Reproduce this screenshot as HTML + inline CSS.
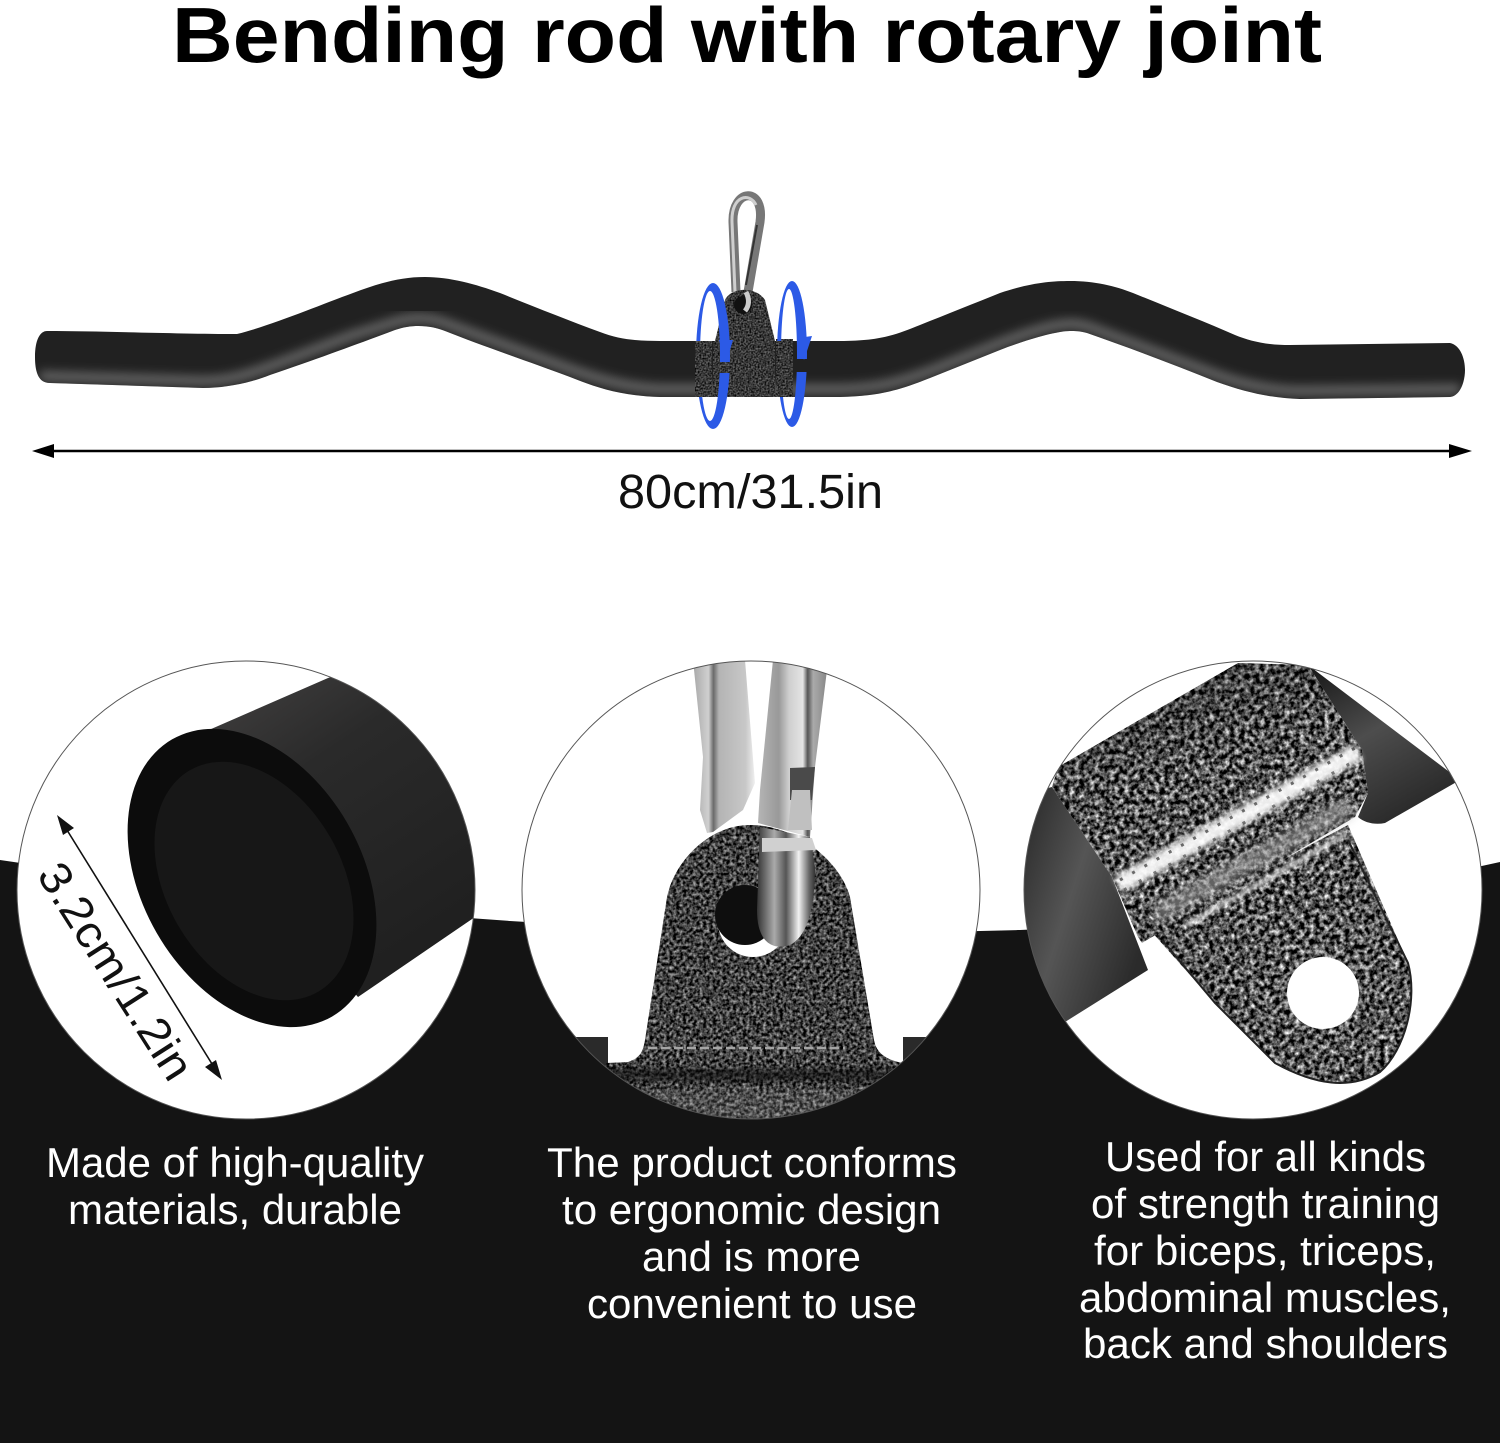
<!DOCTYPE html>
<html><head><meta charset="utf-8"><style>
html,body{margin:0;padding:0;background:#fff}
svg{display:block}
text{font-family:"Liberation Sans",Arial,sans-serif}
.w{fill:#fff;font-size:42px}
</style></head><body>
<svg width="1500" height="1443" viewBox="0 0 1500 1443" xmlns="http://www.w3.org/2000/svg">
<defs>
<filter id="sp" x="0" y="0" width="1" height="1" color-interpolation-filters="sRGB">
<feTurbulence type="fractalNoise" baseFrequency="0.3" numOctaves="2" seed="4" result="n"/>
<feColorMatrix in="n" type="matrix" values="1.3 0 0 0 -0.4  1.3 0 0 0 -0.4  1.3 0 0 0 -0.4  0 0 0 0 1" result="g"/>
<feComposite in="g" in2="SourceAlpha" operator="in"/>
</filter>
<filter id="sp2" x="0" y="0" width="1" height="1" color-interpolation-filters="sRGB">
<feTurbulence type="fractalNoise" baseFrequency="0.2" numOctaves="3" seed="9" result="n"/>
<feColorMatrix in="n" type="matrix" values="1.9 0 0 0 -0.62  1.9 0 0 0 -0.62  1.9 0 0 0 -0.62  0 0 0 0 1" result="g"/>
<feComposite in="g" in2="SourceAlpha" operator="in"/>
</filter>
<filter id="sp3" x="0" y="0" width="1" height="1" color-interpolation-filters="sRGB">
<feTurbulence type="fractalNoise" baseFrequency="0.6" numOctaves="1" seed="2" result="n"/>
<feColorMatrix in="n" type="matrix" values="0.8 0 0 0 -0.18  0.8 0 0 0 -0.18  0.8 0 0 0 -0.18  0 0 0 0 1" result="g"/>
<feComposite in="g" in2="SourceAlpha" operator="in"/>
</filter>
<filter id="b2"><feGaussianBlur stdDeviation="2"/></filter>
<filter id="b3"><feGaussianBlur stdDeviation="3"/></filter>
<filter id="b5"><feGaussianBlur stdDeviation="5"/></filter>
<filter id="b9"><feGaussianBlur stdDeviation="9"/></filter>
<clipPath id="c1"><circle cx="246" cy="890" r="229"/></clipPath>
<clipPath id="c2"><circle cx="751" cy="890" r="229"/></clipPath>
<clipPath id="c3"><circle cx="1253" cy="890" r="229"/></clipPath>
<clipPath id="rodc"><path id="rodp" d="M47,331 C100,331 180,334 237,334 C270,326 320,305 353,293 C380,283 400,277 425,277 C450,277 475,284 500,293 C535,307 570,321 600,332 C620,340 640,341 660,341 L840,341 C880,341 895,335 920,325 C945,315 975,303 1000,293 C1030,283 1050,281 1070,281 C1095,281 1115,286 1133,293 C1170,308 1205,322 1235,335 C1250,341 1265,345 1290,345 L1450,343 C1460,345 1465,358 1465,370 C1465,382 1460,396 1450,397 L1300,399 C1270,398 1245,392 1217,382 C1175,365 1130,348 1087,333 C1080,331 1075,331 1070,331 C1055,331 1020,342 1000,350 L930,378 C900,390 880,396 840,397 L660,397 C620,396 595,387 570,377 C530,362 480,345 445,331 C430,325 412,324 395,330 C360,343 320,358 270,375 C250,383 225,388 203,388 L50,383 C40,383 35,375 35,357 C35,340 40,331 47,331 Z"/></clipPath>
<clipPath id="ringc"><rect x="0" y="0" width="1500" height="341"/><rect x="0" y="397" width="1500" height="100"/><rect x="712" y="341" width="30" height="21"/><rect x="712" y="373" width="30" height="24"/><rect x="792" y="341" width="30" height="18"/><rect x="792" y="372" width="30" height="25"/></clipPath>
<linearGradient id="body1" x1="0.2" y1="0" x2="0.8" y2="1"><stop offset="0" stop-color="#474545"/><stop offset="0.35" stop-color="#2a2a2a"/><stop offset="1" stop-color="#1c1c1c"/></linearGradient>
<linearGradient id="bar3" x1="0" y1="0" x2="1" y2="0.55"><stop offset="0" stop-color="#1a1a1a"/><stop offset="0.55" stop-color="#555"/><stop offset="1" stop-color="#2b2b2b"/></linearGradient>
<linearGradient id="bar4" x1="0" y1="0" x2="0.55" y2="1"><stop offset="0" stop-color="#151515"/><stop offset="0.5" stop-color="#4d4d4d"/><stop offset="1" stop-color="#2a2a2a"/></linearGradient>
<linearGradient id="sil" x1="0" y1="0" x2="1" y2="0"><stop offset="0" stop-color="#a8a8a8"/><stop offset="0.25" stop-color="#d0d0d0"/><stop offset="0.33" stop-color="#6a6a6a"/><stop offset="0.42" stop-color="#b4b4b4"/><stop offset="0.85" stop-color="#c8c8c8"/><stop offset="1" stop-color="#f0f0f0"/></linearGradient>
<linearGradient id="sil2" x1="0" y1="0" x2="1" y2="0"><stop offset="0" stop-color="#b5b5b5"/><stop offset="0.3" stop-color="#999"/><stop offset="0.45" stop-color="#cfcfcf"/><stop offset="0.65" stop-color="#e4e4e4"/><stop offset="0.72" stop-color="#555"/><stop offset="0.8" stop-color="#aaa"/><stop offset="1" stop-color="#888"/></linearGradient>
<linearGradient id="ub" x1="0" y1="0" x2="1" y2="0"><stop offset="0" stop-color="#333"/><stop offset="0.3" stop-color="#aaa"/><stop offset="0.5" stop-color="#555"/><stop offset="0.72" stop-color="#f2f2f2"/><stop offset="0.9" stop-color="#666"/><stop offset="1" stop-color="#333"/></linearGradient>
<linearGradient id="cyl" x1="0.25" y1="0" x2="0.75" y2="1"><stop offset="0" stop-color="#000" stop-opacity=".35"/><stop offset="0.5" stop-color="#000" stop-opacity="0"/><stop offset="1" stop-color="#000" stop-opacity=".1"/></linearGradient>
</defs>

<rect width="1500" height="1443" fill="#fff"/>
<path d="M0,860 C170,885 350,910 510,921 C650,930 850,935 1020,930 C1200,922 1350,895 1500,862 L1500,1443 L0,1443 Z" fill="#141414"/>

<text x="172" y="62" font-size="78" font-weight="700" fill="#000" textLength="1150" lengthAdjust="spacingAndGlyphs">Bending rod with rotary joint</text>

<!-- carabiner -->
<path d="M736,292 L733,222 C732,188 765,186 760,222 L748,292" fill="none" stroke="#777" stroke-width="9"/>
<path d="M735,292 L732,222 C731,195 750,192 756,205" fill="none" stroke="#cfcfcf" stroke-width="3"/>
<path d="M757,225 L746,285" fill="none" stroke="#333" stroke-width="2"/>
<!-- rod -->
<g clip-path="url(#rodc)">
<rect x="0" y="260" width="1500" height="150" fill="#212121"/>
<path d="M40,376 L203,381 C240,381 260,370 353,335 L395,322 C415,316 432,318 445,323 L570,369 C600,380 630,388 660,389 L840,389 C880,388 900,382 930,371 L1000,343 C1040,328 1060,323 1075,324 C1085,325 1090,327 1100,331 L1217,375 C1250,387 1280,391 1300,391 L1460,389" fill="none" stroke="#6a6a6a" stroke-width="9" filter="url(#b5)"/>
</g>
<!-- clevis -->
<path d="M715,341 L725,300 C730,288 755,285 765,300 L775,341 L775,397 L715,397 Z" fill="#444" filter="url(#sp3)"/>
<rect x="695" y="341" width="17" height="56" fill="#444" filter="url(#sp3)"/>
<rect x="713" y="341" width="61" height="55" fill="#444" filter="url(#sp3)"/>
<rect x="776" y="339" width="17" height="58" fill="#444" filter="url(#sp3)"/>
<circle cx="743" cy="305" r="9" fill="#111"/>
<path d="M746,292 C750,300 749,306 745,311" fill="none" stroke="#ccc" stroke-width="5"/>
<!-- blue rings -->
<g clip-path="url(#ringc)" fill="#2c5ae6">
<path fill-rule="evenodd" d="M713,283 A17,73 0 1 1 713,429 A17,73 0 1 1 713,283 Z M710,291 A10,65 0 1 0 710,421 A10,65 0 1 0 710,291 Z"/>
<path fill-rule="evenodd" d="M792,281 A15,73 0 1 1 792,427 A15,73 0 1 1 792,281 Z M789,289 A8,65 0 1 0 789,419 A8,65 0 1 0 789,289 Z"/>
</g>
<path d="M719,340 L733,340 L726,363 Z" fill="#2c5ae6"/>
<path d="M798,338 L812,336 L804,360 Z" fill="#2c5ae6"/>

<!-- dimension arrow -->
<line x1="50" y1="451" x2="1455" y2="451" stroke="#000" stroke-width="2.4"/>
<path d="M32,451 L54,444 L54,458 Z M1472,451 L1449,444 L1449,458 Z" fill="#000"/>
<text x="618" y="508" font-size="48" fill="#111" textLength="265" lengthAdjust="spacingAndGlyphs">80cm/31.5in</text>

<!-- circle 1 -->
<circle cx="246" cy="890" r="229" fill="#fff"/>
<g clip-path="url(#c1)">
<path d="M202,733 L328,678 L560,600 L560,880 L475,917 L358,997 L252,878 Z" fill="url(#body1)"/>
<ellipse cx="252" cy="878" rx="110" ry="160" transform="rotate(-30 252 878)" fill="#0c0c0c"/>
<ellipse cx="254" cy="881" rx="88" ry="128" transform="rotate(-30 254 881)" fill="#171717"/>
</g>
<circle cx="246" cy="890" r="229" fill="none" stroke="#555" stroke-width="1"/>
<g fill="#111">
<line x1="62" y1="822" x2="217" y2="1072" stroke="#111" stroke-width="1.6"/>
<path d="M57,815 L74,828 L63,835 Z M222,1080 L205,1067 L216,1060 Z"/>
</g>
<text transform="translate(36,875) rotate(57.4)" font-size="45" fill="#111" textLength="248" lengthAdjust="spacingAndGlyphs">3.2cm/1.2in</text>

<!-- circle 2 -->
<circle cx="751" cy="890" r="229" fill="#fff"/>
<g clip-path="url(#c2)">
<path d="M693,660 L745,660 L755,783 L743,810 L713,832 L707,833 L700,810 L703,757 Z" fill="url(#sil)"/>
<path d="M773,660 L827,670 L815,767 L810,837 L758,823 L760,790 Z" fill="url(#sil2)"/>
<path d="M790,768 L815,767 L812,800 L790,800 Z" fill="#4a4a4a"/>
<path d="M792,790 L810,790 L812,830 L788,830 Z" fill="#c0c0c0"/>
<path d="M573,1037 L608,1037 L608,1064 L640,1064 L880,1064 L903,1064 L903,1037 L940,1037 L940,1120 L573,1120 Z" fill="#2a2a2a"/>
<path d="M628,1062 C640,1058 643,1052 645,1040 L667,897 C675,860 710,825 750,825 C795,825 840,860 850,897 L874,1040 C876,1052 885,1060 903,1063 L925,1130 L590,1130 L606,1063 Z" fill="#3d3d3d" filter="url(#sp)"/>
<rect x="600" y="1068" width="320" height="14" fill="#111" opacity=".55" filter="url(#b3)"/>
<path d="M648,1048 L845,1048" stroke="#a5a5a5" stroke-width="2.5" stroke-dasharray="9 4" fill="none"/>
<rect x="620" y="1090" width="270" height="40" fill="#888" opacity=".25" filter="url(#b5)"/>
<circle cx="753" cy="922" r="35" fill="#fff"/>
<circle cx="745" cy="915" r="30" fill="#0e0e0e"/>
<path d="M760,827 L757,910 C757,945 775,950 790,945 C810,935 815,900 815,867 L810,837 Z" fill="url(#ub)"/>
<path d="M762,838 L812,838 L816,850 L762,852 Z" fill="#d0d0d0"/>
</g>
<circle cx="751" cy="890" r="229" fill="none" stroke="#555" stroke-width="1"/>

<!-- circle 3 -->
<circle cx="1253" cy="890" r="229" fill="#fff"/>
<g clip-path="url(#c3)">
<path d="M1052,787 L1112,877 L1148,970 L1065,1022 L1000,1040 L1000,800 Z" fill="url(#bar3)"/>
<path d="M1308,665 L1460,780 L1385,823 C1375,825 1365,823 1358,817 L1368,793 L1362,750 Z" fill="url(#bar4)"/>
<path d="M1150,930 L1348,825 L1408,963 C1418,1000 1405,1050 1380,1072 C1350,1090 1315,1085 1275,1063 L1215,1003 Z" fill="#3a3a3a" filter="url(#sp2)"/>
<path d="M1162,940 L1215,1003 L1275,1063 C1315,1085 1350,1090 1380,1072 C1405,1050 1418,1000 1408,963 L1348,840" fill="none" stroke="#222" stroke-width="2"/>
<path d="M1052,787 L1058,767 L1238,663 L1308,665 L1362,750 L1368,793 L1355,817 L1142,943 L1138,937 L1112,877 Z" fill="#444" filter="url(#sp2)"/>
<path d="M1058,767 L1238,663 L1308,665 L1362,750 L1112,877 Z" fill="url(#cyl)"/>
<path d="M1155,915 L1350,806" stroke="#aaa" stroke-width="20" opacity=".6" filter="url(#b5)" fill="none"/>
<path d="M1118,885 L1358,752" stroke="#fff" stroke-width="18" opacity=".92" filter="url(#b3)" fill="none"/>
<path d="M1120,880 L1355,748" stroke="#333" stroke-width="3" stroke-dasharray="3 11" opacity=".7" fill="none"/>
<path d="M1124,890 L1358,759" stroke="#333" stroke-width="3" stroke-dasharray="3 14" opacity=".6" fill="none"/>
<path d="M1185,926 L1346,834" stroke="#f4f4f4" stroke-width="4" opacity=".9" filter="url(#b2)" fill="none"/>
<circle cx="1323" cy="993" r="36" fill="#fff"/>
</g>
<circle cx="1253" cy="890" r="229" fill="none" stroke="#555" stroke-width="1"/>

<!-- captions -->
<text class="w" x="46" y="1177" textLength="378" lengthAdjust="spacingAndGlyphs">Made of high-quality</text>
<text class="w" x="68" y="1224" textLength="334" lengthAdjust="spacingAndGlyphs">materials, durable</text>
<text class="w" x="547" y="1177" textLength="410" lengthAdjust="spacingAndGlyphs">The product conforms</text>
<text class="w" x="562" y="1224" textLength="379" lengthAdjust="spacingAndGlyphs">to ergonomic design</text>
<text class="w" x="642" y="1271" textLength="219" lengthAdjust="spacingAndGlyphs">and is more</text>
<text class="w" x="587" y="1318" textLength="330" lengthAdjust="spacingAndGlyphs">convenient to use</text>
<text class="w" x="1105" y="1171" textLength="321" lengthAdjust="spacingAndGlyphs">Used for all kinds</text>
<text class="w" x="1091" y="1218" textLength="349" lengthAdjust="spacingAndGlyphs">of strength training</text>
<text class="w" x="1094" y="1265" textLength="342" lengthAdjust="spacingAndGlyphs">for biceps, triceps,</text>
<text class="w" x="1079" y="1312" textLength="372" lengthAdjust="spacingAndGlyphs">abdominal muscles,</text>
<text class="w" x="1083" y="1358" textLength="365" lengthAdjust="spacingAndGlyphs">back and shoulders</text>
</svg>
</body></html>
